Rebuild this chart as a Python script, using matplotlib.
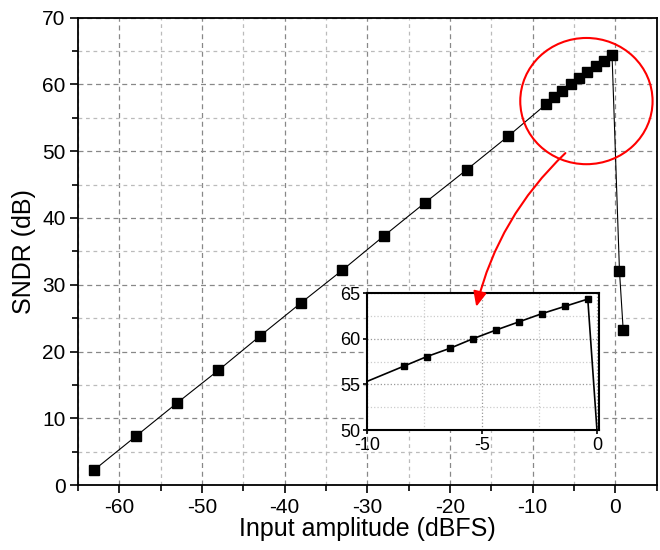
import matplotlib
matplotlib.use('Agg')
import matplotlib.pyplot as plt
from matplotlib.patches import Ellipse, FancyArrowPatch
from matplotlib.ticker import MultipleLocator

plt.rcParams['font.family'] = ['Liberation Sans', 'DejaVu Sans']
plt.rcParams['axes.unicode_minus'] = False

# input amplitude (dBFS) and measured SNDR (dB)
amp = [-63, -58, -53, -48, -43, -38, -33, -28, -23, -18, -13,
       -8.4, -7.4, -6.4, -5.4, -4.4, -3.4, -2.4, -1.4, -0.4, 0.5, 0.95]
sndr = [2.3, 7.3, 12.3, 17.2, 22.3, 27.3, 32.2, 37.3, 42.3, 47.2, 52.2,
        57.0, 58.05, 58.95, 60.0, 60.95, 61.85, 62.75, 63.55, 64.35, 32.0, 23.2]

fig = plt.figure(figsize=(6.6, 5.5), dpi=100)
ax = fig.add_axes([0.118, 0.118, 0.877, 0.850])

ax.plot(amp, sndr, color='black', lw=0.8, marker='s', ms=7, mfc='black', mec='black')
ax.set_xlim(-65, 5)
ax.set_ylim(0, 70)
ax.xaxis.set_major_locator(MultipleLocator(10))
ax.xaxis.set_minor_locator(MultipleLocator(5))
ax.yaxis.set_major_locator(MultipleLocator(10))
ax.yaxis.set_minor_locator(MultipleLocator(5))
ax.grid(which='major', color='#888888', ls=(0, (4, 3)), lw=0.9)
ax.grid(which='minor', color='#bbbbbb', ls=(0, (3, 3)), lw=0.9)
ax.tick_params(which='major', direction='out', length=6, width=1.2, labelsize=15, pad=3)
ax.tick_params(which='minor', direction='out', length=4, width=1.2)
for s in ax.spines.values():
    s.set_linewidth(1.3)
ax.set_xlabel('Input amplitude (dBFS)', fontsize=18, labelpad=0)
ax.set_ylabel('SNDR (dB)', fontsize=18, labelpad=4)

# red highlight around the top points
ax.add_patch(Ellipse((-3.5, 57.5), 16.0, 18.9, fill=False, ec='red', lw=1.5, zorder=5))

# zoomed inset
ins = fig.add_axes([0.556, 0.218, 0.352, 0.249])
ins.plot(amp, sndr, color='black', lw=1.2, marker='s', ms=4.5, mfc='black', mec='black')
ins.set_xlim(-10, 0.1)
ins.set_ylim(50, 65)
ins.xaxis.set_major_locator(MultipleLocator(5))
ins.xaxis.set_minor_locator(MultipleLocator(2.5))
ins.yaxis.set_major_locator(MultipleLocator(5))
ins.yaxis.set_minor_locator(MultipleLocator(2.5))
ins.grid(which='major', color='#999999', ls=':', lw=0.9)
ins.grid(which='minor', color='#cccccc', ls=':', lw=0.9)
ins.tick_params(which='major', direction='out', length=3, width=1.2, labelsize=13)
ins.tick_params(axis='x', pad=2)
ins.tick_params(axis='y', pad=2)
ins.tick_params(which='minor', length=0)
for s in ins.spines.values():
    s.set_linewidth(1.5)

# red arrow from the circle into the inset, drawn above the inset
arr = FancyArrowPatch((-5.8, 50.0), (-16.9, 26.3), transform=ax.transData,
                      connectionstyle='arc3,rad=0.15',
                      arrowstyle='-|>,head_length=9,head_width=4', color='red', lw=1.5,
                      zorder=10)
fig.add_artist(arr)

fig.savefig('out.png', dpi=100)
